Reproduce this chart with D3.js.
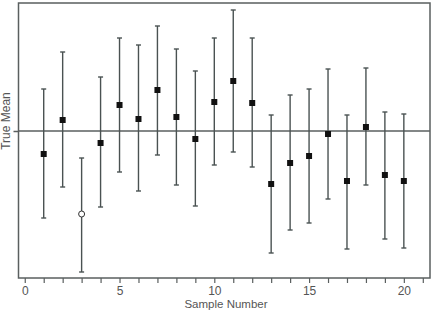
<!DOCTYPE html>
<html>
<head>
<meta charset="utf-8">
<script src="https://cdn.jsdelivr.net/npm/d3@7"></script>
<style>
  body { margin: 0; background: #fff; }
  svg { display: block; font-family: "Liberation Sans", Arial, sans-serif; }
</style>
</head>
<body>
<script>
// sample means and interval ends (true mean = 0)
const SAMPLES = d3.range(1, 21);
const MEANS = [-0.46, 0.22, -1.66, -0.24, 0.52, 0.24, 0.82, 0.28, -0.16, 0.58,
  1.00, 0.56, -1.06, -0.64, -0.50, -0.06, -1.00, 0.08, -0.88, -1.00];
const LOWER = [-1.74, -1.12, -2.82, -1.52, -0.82, -1.20, -0.48, -1.08, -1.50, -0.68,
  -0.42, -0.72, -2.44, -1.98, -1.84, -1.36, -2.36, -1.08, -2.16, -2.34];
const UPPER = [0.84, 1.58, -0.54, 1.08, 1.86, 1.72, 2.10, 1.64, 1.20, 1.86,
  2.42, 1.86, 0.32, 0.72, 0.84, 1.24, 0.32, 1.26, 0.38, 0.34];
const TRUE_MEAN = 0;
const X_TICKS = [0, 5, 10, 15, 20];

const width = 432,
  height = 310,
  m = { left: 18.5, right: 2, top: 3, bottom: 32 };

const data = SAMPLES.map((s, i) => ({
  s,
  mean: MEANS[i],
  lo: LOWER[i],
  hi: UPPER[i],
  miss: LOWER[i] > TRUE_MEAN || UPPER[i] < TRUE_MEAN
}));

const svg = d3.select("body").append("svg")
  .attr("width", width)
  .attr("height", height);

const x = d3.scaleLinear()
  .domain([-0.33, 21.38])
  .range([m.left, width - m.right]);

const y = d3.scaleLinear()
  .domain([-2.94, 2.56])
  .range([height - m.bottom, m.top]);

const axisColor = "#5a5f5f";

// x axis: ticks at every integer, labels every 5
const xAxis = d3.axisBottom(x)
  .tickValues(d3.range(0, 22))
  .tickFormat(d => (X_TICKS.includes(d) ? d : ""))
  .tickSize(5)
  .tickSizeOuter(0);

const gx = svg.append("g")
  .attr("transform", `translate(0,${height - m.bottom})`)
  .call(xAxis);
gx.select(".domain").remove();
gx.selectAll("line").attr("stroke", axisColor).attr("stroke-width", 1.2);
gx.selectAll("text")
  .attr("fill", "#555")
  .attr("font-size", 12)
  .attr("y", 8)
  .attr("font-family", "Liberation Sans, Arial, sans-serif");

// y axis: single tick at the true mean
const yAxis = d3.axisLeft(y)
  .tickValues([TRUE_MEAN])
  .tickFormat("")
  .tickSize(5)
  .tickSizeOuter(0);

const gy = svg.append("g")
  .attr("transform", `translate(${m.left},0)`)
  .call(yAxis);
gy.select(".domain").remove();
gy.selectAll("line").attr("stroke", axisColor).attr("stroke-width", 1.5);

// frame
svg.append("rect")
  .attr("x", m.left)
  .attr("y", m.top)
  .attr("width", width - m.right - m.left)
  .attr("height", height - m.bottom - m.top)
  .attr("fill", "none")
  .attr("stroke", axisColor)
  .attr("stroke-width", 1.5);

// true mean line
svg.append("line")
  .attr("x1", m.left)
  .attr("x2", width - m.right)
  .attr("y1", y(TRUE_MEAN))
  .attr("y2", y(TRUE_MEAN))
  .attr("stroke", axisColor)
  .attr("stroke-width", 1.5);

// error bars
const bars = svg.append("g").selectAll("g")
  .data(data)
  .join("g");

const barColor = "#4a5252";

bars.append("line")
  .attr("x1", d => x(d.s))
  .attr("x2", d => x(d.s))
  .attr("y1", d => y(d.lo))
  .attr("y2", d => y(d.hi))
  .attr("stroke", barColor)
  .attr("stroke-width", 1.4);

bars.selectAll(".cap")
  .data(d => [d.lo, d.hi].map(v => ({ s: d.s, v })))
  .join("line")
  .attr("class", "cap")
  .attr("x1", d => x(d.s) - 2.5)
  .attr("x2", d => x(d.s) + 2.5)
  .attr("y1", d => y(d.v))
  .attr("y2", d => y(d.v))
  .attr("stroke", barColor)
  .attr("stroke-width", 1.4);

// means
bars.filter(d => !d.miss)
  .append("rect")
  .attr("x", d => x(d.s) - 3)
  .attr("y", d => y(d.mean) - 3)
  .attr("width", 6)
  .attr("height", 6)
  .attr("fill", "#111");

bars.filter(d => d.miss)
  .append("circle")
  .attr("cx", d => x(d.s))
  .attr("cy", d => y(d.mean))
  .attr("r", 3)
  .attr("fill", "#fff")
  .attr("stroke", "#333")
  .attr("stroke-width", 1);

// labels
svg.append("text")
  .attr("x", 226)
  .attr("y", 307.5)
  .attr("text-anchor", "middle")
  .attr("font-size", 11.5)
  .attr("fill", "#555")
  .text("Sample Number");

svg.append("text")
  .attr("transform", `translate(10,121) rotate(-90)`)
  .attr("text-anchor", "middle")
  .attr("font-size", 12)
  .attr("fill", "#555")
  .text("True Mean");
</script>
</body>
</html>
